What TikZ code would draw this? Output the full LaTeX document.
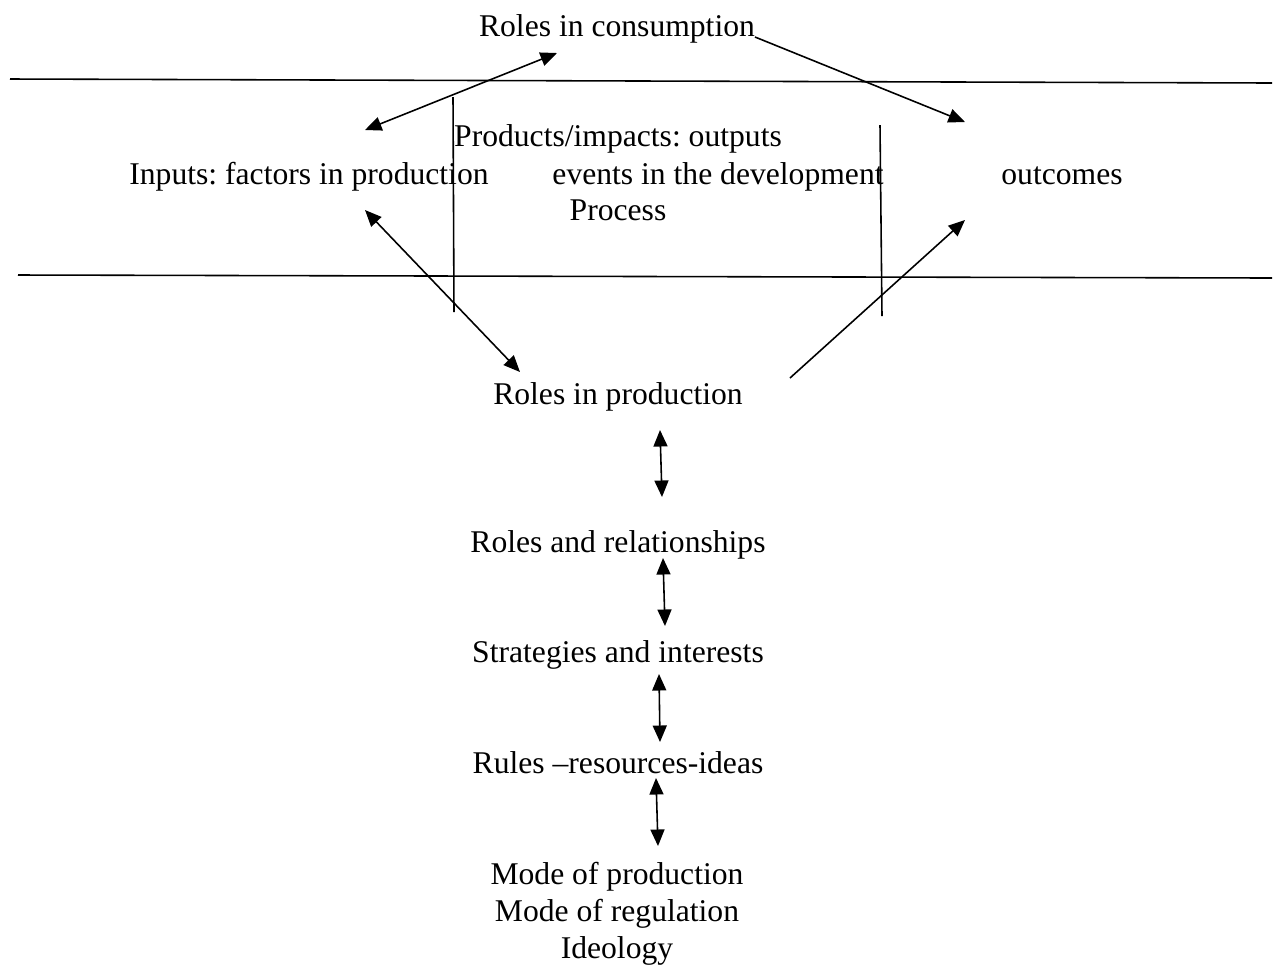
\documentclass[tikz,border=0pt]{standalone}
\usepackage{fontspec}
\setmainfont{Liberation Serif}
\usetikzlibrary{arrows.meta}
\frenchspacing

\begin{document}
\begin{tikzpicture}[x=0.02cm, y=-0.02cm, line width=0.9pt,
    every node/.style={font=\fontsize{18}{21}\selectfont, anchor=base, inner sep=0pt},
    tip/.style={-{Triangle[length=3.3mm, width=2.8mm]}},
    both/.style={{Triangle[length=3.3mm, width=2.8mm]}-{Triangle[length=3.3mm, width=2.8mm]}}]
  \useasboundingbox (0,0) rectangle (1278,965);

  % band lines
  \draw (10,79) -- (1272,83);
  \draw (18,275) -- (1272,278);
  \draw (453,97) -- (454,312);
  \draw (880,125) -- (882,316);

  % texts
  \node (cons) at (617,36) {Roles in consumption};
  \node (inputs) at (309,184) {Inputs: factors in production};
  \node (outputs) at (618,146) {Products/impacts: outputs};
  \node (events) at (718,184) {events in the development};
  \node (process) at (618,220) {Process};
  \node (outcomes) at (1062,184) {outcomes};
  \node (rprod) at (618,404) {Roles in production};
  \node (rrel) at (618,552) {Roles and relationships};
  \node (strat) at (618,662) {Strategies and interests};
  \node (rules) at (618,773) {Rules --resources-ideas};
  \node (mode1) at (617,884) {Mode of production};
  \node (mode2) at (617,921) {Mode of regulation};
  \node (ideo) at (617,958) {Ideology};

  % arrow ends
  \coordinate (inTop) at (365,130);
  \coordinate (consL) at (557,53);
  \coordinate (consR) at (755,37);
  \coordinate (outTop) at (965,122);
  \coordinate (inLow) at (365,210);
  \coordinate (prodL) at (520,372);
  \coordinate (prodR) at (790,378);
  \coordinate (outLow) at (965,220);

  \draw[both] (inTop) -- (consL);
  \draw[tip] (consR) -- (outTop);
  \draw[both] (inLow) -- (prodL);
  \draw[tip] (prodR) -- (outLow);

  % links down the stack
  \foreach \i/\xa/\ya/\xb/\yb in {1/660/430/662/497, 2/663/558/665/626, 3/659/674/660/742, 4/656/778/658/846} {
    \coordinate (up\i) at (\xa,\ya);
    \coordinate (dn\i) at (\xb,\yb);
    \draw[both] (up\i) -- (dn\i);
  }
\end{tikzpicture}
\end{document}
